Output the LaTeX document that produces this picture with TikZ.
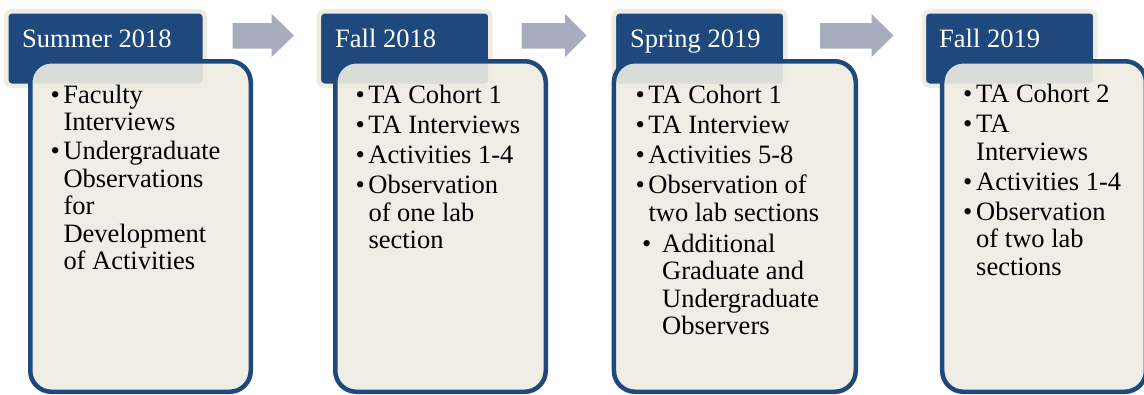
\documentclass[tikz,border=0pt]{standalone}
\usepackage{fontspec}
\setmainfont{Liberation Serif}
\definecolor{tblue}{HTML}{1F497D}
\definecolor{cream}{HTML}{EEECE1}
\definecolor{agray}{HTML}{A7ADBC}
\newcommand\mybu{\makebox[11.5pt][l]{\hspace*{-1.5pt}•}}
\newcommand\myin{\hspace*{11.5pt}}
\begin{document}
\begin{tikzpicture}[x=1pt,y=-1pt,
  ttl/.style={draw=cream, line width=4.5pt, fill=tblue, rounded corners=5pt, inner sep=0pt, minimum height=74.5pt},
  bodybox/.style={draw=tblue, line width=4.5pt, fill=cream, fill opacity=0.9, rounded corners=21pt, inner sep=0pt, minimum height=330.5pt},
  blk/.style={fill=agray},
  ttext/.style={anchor=base west, inner sep=0pt, text=white, font=\fontsize{26.5}{30}\selectfont},
  btext/.style={anchor=base west, inner sep=0pt, font=\fontsize{26.5}{27.5}\selectfont}]
\useasboundingbox (0,0) rectangle (1144,394);
\clip (0,0) rectangle (1144,394);

% block arrows
\fill[blk] (232.7,23) -- (271.7,23) -- (271.7,14) -- (294,35.5) -- (271.7,57) -- (271.7,48.7) -- (232.7,48.7) -- cycle;
\fill[blk] (521.7,23) -- (565,23) -- (565,14) -- (586.7,35.5) -- (565,57) -- (565,48.7) -- (521.7,48.7) -- cycle;
\fill[blk] (820,23) -- (871.7,23) -- (871.7,14) -- (893.3,35.5) -- (871.7,57) -- (871.7,48.7) -- (820,48.7) -- cycle;

% title boxes
\node[ttl, minimum width=198.5pt] (t1) at (105.5,48.5) {};
\node[ttl, minimum width=171.5pt] (t2) at (404.7,48.5) {};
\node[ttl, minimum width=171.5pt] (t3) at (699.7,48.5) {};
\node[ttl, minimum width=171.5pt] (t4) at (1009.7,48.5) {};
\node[ttext] (tt1) at (22,47) {Summer 2018};
\node[ttext] (tt2) at (335,47) {Fall 2018};
\node[ttext] (tt3) at (630,47) {Spring 2019};
\node[ttext] (tt4) at (939,47) {Fall 2019};

% body boxes
\node[bodybox, minimum width=220.5pt] (b1) at (140.5,226.5) {};
\node[bodybox, minimum width=210.5pt] (b2) at (440.5,226.5) {};
\node[bodybox, minimum width=241.8pt] (b3) at (734.85,226.5) {};
\node[bodybox, minimum width=203.75pt] (b4) at (1044.1,226.5) {};

% body texts
\node[btext] (x1) at (51.8,103) {\begin{tabular}[t]{@{}l@{}}
\mybu Faculty\\
\myin Interviews\\[1.5pt]
\mybu Undergraduate\\
\myin Observations\\
\myin for\\
\myin Development\\
\myin of Activities
\end{tabular}};
\node[btext] (x2) at (356.8,103.5) {\begin{tabular}[t]{@{}l@{}}
\mybu TA Cohort 1\\[2.5pt]
\mybu TA Interviews\\[2.5pt]
\mybu Activities 1-4\\[2.5pt]
\mybu Observation\\
\myin of one lab\\
\myin section
\end{tabular}};
\node[btext] (x3) at (636.8,103.5) {\begin{tabular}[t]{@{}l@{}}
\mybu TA Cohort 1\\[2.5pt]
\mybu TA Interview\\[2.5pt]
\mybu Activities 5-8\\[2.5pt]
\mybu Observation of\\
\myin two lab sections\\[3.5pt]
\hspace*{6.5pt}\makebox[18.7pt][l]{\hspace*{-1.5pt}•}Additional\\
\hspace*{25.2pt}Graduate and\\
\hspace*{25.2pt}Undergraduate\\
\hspace*{25.2pt}Observers
\end{tabular}};
\node[btext] (x4) at (964.5,102.5) {\begin{tabular}[t]{@{}l@{}}
\mybu TA Cohort 2\\[2.5pt]
\mybu TA\\
\myin Interviews\\[2.5pt]
\mybu Activities 1-4\\[2.5pt]
\mybu Observation\\
\myin of two lab\\
\myin sections
\end{tabular}};
\end{tikzpicture}
\end{document}
